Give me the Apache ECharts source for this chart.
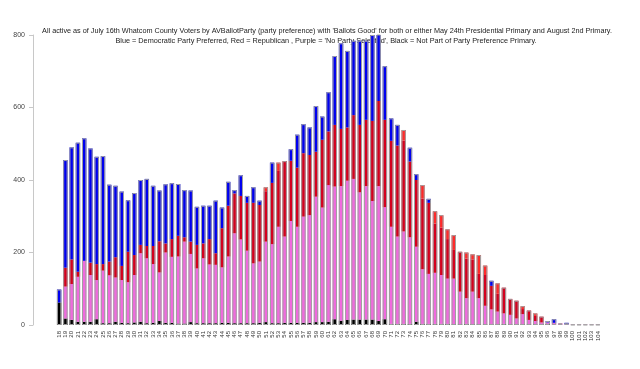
<!DOCTYPE html>
<html><head><meta charset="utf-8">
<script src="https://cdn.jsdelivr.net/npm/echarts@6/dist/echarts.min.js"></script>
<style>html,body{margin:0;padding:0;background:#fff}#c{width:640px;height:369px}</style>
</head><body><div id="c"></div>
<script>
var ages = ['18','19','20','21','22','23','24','25','26','27','28','29','30','31','32','33','34','35','36','37','38','39',
'40','41','42','43','44','45','46','47','48','49','50','51','52','53','54','55','56','57','58','59','60','61','62','63','64','65','66','67','68','69','70',
'71','72','73','74','75','76','77','78','79','80','81','82','83','84','85','86','87','88','89','90','91','92','93','94','95','96','97','98','99','100','101','102','103','104'];

var notInPrimary = [62,18,14,9,9,9,16,5,5,9,6,5,7,9,5,6,11,6,6,4,4,8,
5,5,5,5,6,6,5,5,5,5,6,8,5,5,6,6,6,6,6,8,8,9,16,12,14,15,15,15,15,11,16,
3,3,3,3,9,3,3,3,3,3,2,2,3,2,2,2,2,2,3,2,2,2,2,2,2,3,0,0,0,0,0,0,0,0];

var noParty = [0,88,99,124,168,129,108,145,132,122,118,113,131,189,179,162,134,194,182,185,226,188,
151,179,162,161,153,183,248,231,200,165,169,222,218,266,238,281,265,293,297,346,316,377,366,371,384,388,351,368,327,372,309,
268,241,255,239,207,151,138,141,135,125,126,90,71,90,72,51,41,35,29,26,16,28,12,9,5,4,6,5,2,1,1,1,1,1];

var republican = [0,52,68,14,0,34,44,18,38,56,39,84,55,23,34,50,86,25,49,57,12,34,
65,41,70,32,108,140,110,120,132,167,156,139,169,154,208,166,163,175,166,124,187,148,170,158,147,176,186,183,221,235,241,
237,251,251,209,184,195,196,136,131,109,79,110,109,89,67,85,65,49,71,44,49,14,26,14,16,0,0,0,0,0,0,0,0,0];

var republicanLight = [0,0,0,0,0,0,0,0,0,0,0,0,0,0,0,0,0,0,0,0,0,0,
0,0,0,0,0,0,0,0,0,0,0,11,0,23,0,0,0,0,0,0,0,0,0,0,0,0,0,0,0,0,0,
0,0,29,0,0,37,0,34,34,27,41,0,17,14,52,26,0,29,0,0,0,8,0,7,0,0,0,0,0,0,0,0,0,0];

var democratic = [36,297,309,356,338,315,296,298,212,197,205,142,171,179,185,166,140,163,154,143,130,141,
105,104,92,145,57,66,9,57,19,43,12,0,56,0,0,32,91,80,76,126,64,108,190,236,211,205,232,218,237,205,148,
62,57,0,38,16,0,11,0,0,0,0,0,0,0,0,0,14,0,0,0,0,0,0,0,0,4,10,0,4,0,0,0,0,0];

var yTicks = [0,200,400,600,800];

var titleLine1 = "All active as of July 16th Whatcom County Voters by AVBallotParty (party preference) with 'Ballots Good' for both or either May 24th Presidential Primary and August 2nd Primary.";
var titleLine2 = "Blue = Democratic Party Preferred, Red = Republican , Purple = 'No Party Selected', Black = Not Part of Party Preference Primary.";

var totals = ages.map(function(_, i){
  return notInPrimary[i] + noParty[i] + republican[i] + republicanLight[i] + democratic[i];
});

var BW = 4.4;
function seg(name, data, color){
  return {name: name, type: 'bar', stack: 'v', data: data, barWidth: BW, barGap: '-100%',
    itemStyle: {color: color}, z: 3, silent: true, animation: false};
}

var chart = echarts.init(document.getElementById('c'), null, {renderer: 'canvas'});
chart.setOption({
  animation: false,
  backgroundColor: '#ffffff',
  grid: {left: 56, right: 39, top: 35, bottom: 44},
  graphic: [
    {type: 'text', z: 0, x: 327, y: 27, style: {text: titleLine1, align: 'center', verticalAlign: 'top',
      fontSize: 7.25, fontFamily: 'Liberation Sans, Arial, sans-serif', fill: '#222'}},
    {type: 'text', z: 0, x: 326, y: 37, style: {text: titleLine2, align: 'center', verticalAlign: 'top',
      fontSize: 7.3, fontFamily: 'Liberation Sans, Arial, sans-serif', fill: '#222'}}
  ],
  xAxis: {
    type: 'category', data: ages,
    axisLine: {show: false}, axisTick: {show: false},
    axisLabel: {interval: 0, rotate: 90, fontSize: 6, margin: 6, color: '#333',
      fontFamily: 'Liberation Sans, Arial, sans-serif'}
  },
  yAxis: {
    type: 'value', min: yTicks[0], max: yTicks[yTicks.length-1], interval: 200, offset: 23,
    splitLine: {show: false},
    axisLine: {show: true, lineStyle: {color: '#c8c8c8', width: 1}},
    axisTick: {show: true, length: 4, lineStyle: {color: '#c8c8c8'}},
    axisLabel: {fontSize: 7, color: '#444', margin: 8, fontFamily: 'Liberation Sans, Arial, sans-serif'}
  },
  series: [
    seg('Not Part of Party Preference Primary', notInPrimary, '#000000'),
    seg('No Party Selected', noParty, '#f06ade'),
    seg('Republican', republican, '#d4001e'),
    seg('Republican (light)', republicanLight, '#ff2a2a'),
    seg('Democratic', democratic, '#0000f0'),
    {name: 'outline', type: 'bar', data: totals, barWidth: BW, barGap: '-100%', z: 4, silent: true,
      itemStyle: {color: 'rgba(0,0,0,0)', borderColor: '#a0a0a0', borderWidth: 1}}
  ]
});
</script></body></html>
